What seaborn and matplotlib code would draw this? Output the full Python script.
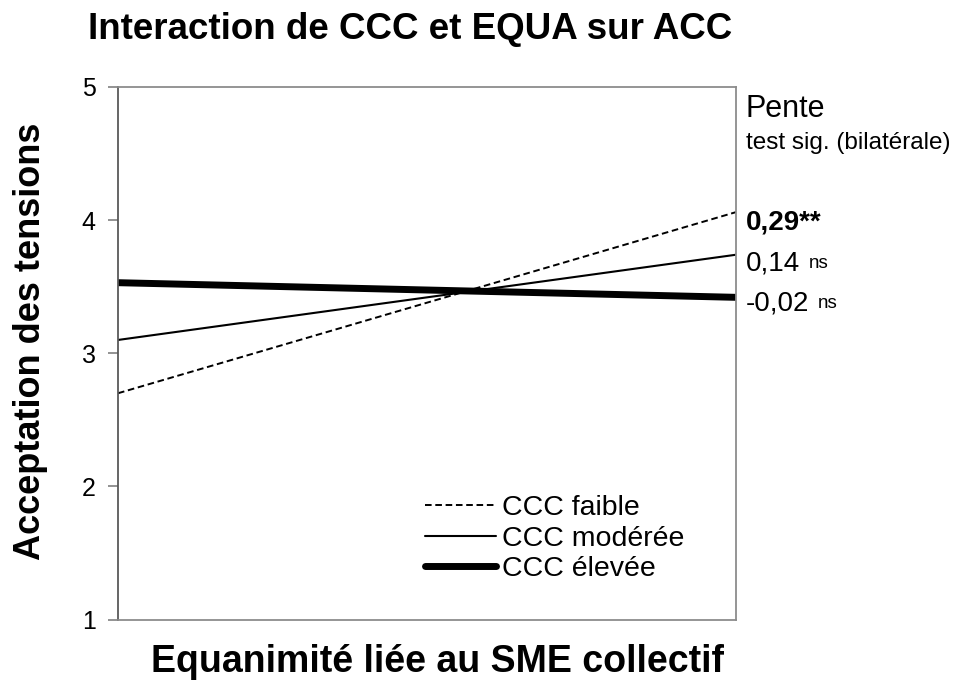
import matplotlib
matplotlib.use("Agg")
import matplotlib.pyplot as plt
import seaborn as sns
import pandas as pd

# Simple slopes: predicted ACC at low / high EQUA for three levels of CCC
equa_levels = [0, 1]
series_names = ["CCC faible", "CCC modérée", "CCC élevée"]
acc_faible = [2.70, 4.06]
acc_moderee = [3.10, 3.74]
acc_elevee = [3.53, 3.42]
slope_labels = ["0,29**", "0,14", "-0,02"]
slope_sig = ["", "ns", "ns"]
y_ticks = [1, 2, 3, 4, 5]

sns.set_theme(style="white")
plt.rcParams["font.family"] = ["Liberation Sans", "DejaVu Sans"]
plt.rcParams.update({
    "text.color": "black",
    "axes.labelcolor": "black",
    "xtick.color": "black",
    "ytick.color": "black",
})

df = pd.DataFrame({
    "EQUA": equa_levels * 3,
    "ACC": acc_faible + acc_moderee + acc_elevee,
    "CCC": [s for s in series_names for _ in equa_levels],
})

fig = plt.figure(figsize=(9.75, 6.84), dpi=100)
ax = fig.add_axes([0.121, 0.094, 0.634, 0.779])

styles = {
    "CCC faible": dict(linestyle=(0, (3.4, 1.9)), linewidth=1.4),
    "CCC modérée": dict(linestyle="-", linewidth=1.5),
    "CCC élevée": dict(linestyle="-", linewidth=5.0, solid_capstyle="round"),
}
for name in series_names:
    sub = df[df["CCC"] == name]
    sns.lineplot(data=sub, x="EQUA", y="ACC", ax=ax, color="black",
                 label=name, **styles[name])

ax.set_xlim(0, 1)
ax.set_ylim(1, 5)
ax.set_yticks(y_ticks)
ax.set_xticks([])
ax.tick_params(axis="y", which="both", length=7, width=1.2, color="#808080",
               direction="out", left=True, labelsize=18, pad=9)
for sp in ax.spines.values():
    sp.set_color("#8c8c8c")
    sp.set_linewidth(1.3)
ax.spines["left"].set_color("#595959")

ax.set_xlabel("Equanimité liée au SME collectif", fontsize=27, fontweight="bold")
ax.xaxis.set_label_coords(0.517, -0.045)
ax.set_ylabel("Acceptation des tensions", fontsize=26, fontweight="bold")
ax.yaxis.set_label_coords(-0.113, 0.523)
fig.text(0.090, 0.943, "Interaction de CCC et EQUA sur ACC", fontsize=26.5,
         fontweight="bold", ha="left", va="baseline")

# slope annotations on the right
fig.text(0.765, 0.841, "Pente", fontsize=22, ha="left", va="center")
fig.text(0.765, 0.791, "test sig. (bilatérale)", fontsize=17.5, ha="left",
         va="center")
offsets = {"CCC faible": -5, "CCC modérée": -4.5, "CCC élevée": -2.5}
for val, sig, name in zip(slope_labels, slope_sig, series_names):
    yv = df[(df["CCC"] == name) & (df["EQUA"] == 1)]["ACC"].iloc[0]
    weight = "bold" if sig == "" else "normal"
    t = ax.annotate(val, xy=(1, yv), xycoords="data",
                    xytext=(7, offsets[name]), textcoords="offset points",
                    fontsize=20, fontweight=weight, ha="left",
                    va="center_baseline", annotation_clip=False)
    if sig:
        ax.annotate(sig, xy=(1, 1), xycoords=t, xytext=(6, -3),
                    textcoords="offset points", fontsize=13.5, ha="left",
                    va="top", annotation_clip=False)

leg = ax.legend(loc="center left", bbox_to_anchor=(0.497, 0.152),
                frameon=False, fontsize=20.5, handlelength=2.5,
                handletextpad=0.2, labelspacing=0.15, borderaxespad=0,
                borderpad=0)

fig.savefig("out.png", dpi=100, facecolor="white")
